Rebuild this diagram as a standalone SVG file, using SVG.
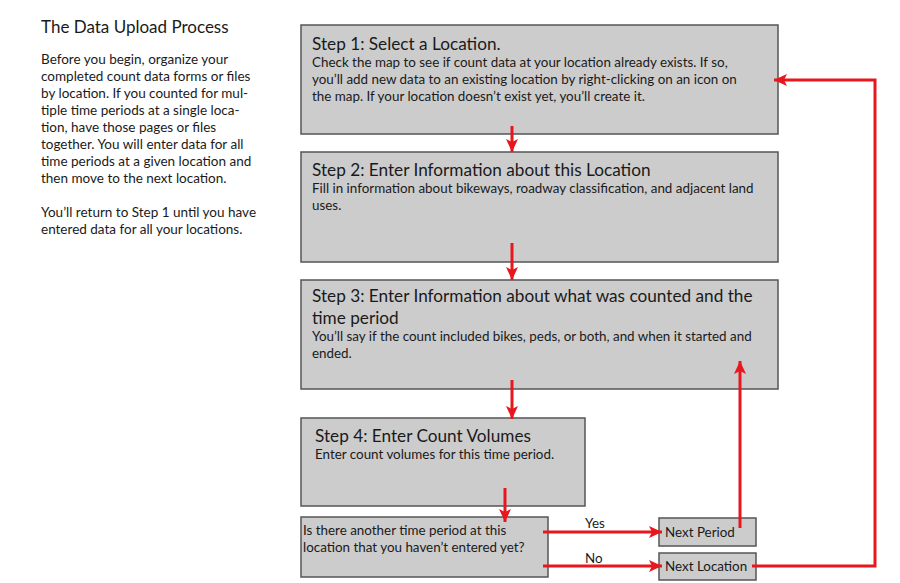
<svg xmlns="http://www.w3.org/2000/svg" width="900" height="583" viewBox="0 0 900 583">
<defs>
<style>
.box{fill:#cccccc;stroke:#555555;stroke-width:1.5}
.t{font-family:Lato,"Open Sans","Liberation Sans",sans-serif;fill:#1a1a1a}
.h{font-size:17.2px}
.b{font-size:13.4px}
.w{font-size:13.5px}
.c{fill:none;stroke:#e8161e;stroke-width:3}
</style>
<marker id="ah" markerUnits="userSpaceOnUse" markerWidth="14" markerHeight="12" refX="13" refY="6" orient="auto">
<path d="M0,0 L13,6 L0,12 L3,6 Z" fill="#e8161e"/>
</marker>
</defs>
<rect width="900" height="583" fill="#ffffff"/>
<g id="intro">
<text class="t" x="41" y="33" font-size="17">The Data Upload Process</text>
<text class="t w">
<tspan x="41" y="64">Before you begin, organize your</tspan>
<tspan x="41" y="81">completed count data forms or files</tspan>
<tspan x="41" y="98">by location. If you counted for mul-</tspan>
<tspan x="41" y="115">tiple time periods at a single loca-</tspan>
<tspan x="41" y="132">tion, have those pages or files</tspan>
<tspan x="41" y="149">together. You will enter data for all</tspan>
<tspan x="41" y="166">time periods at a given location and</tspan>
<tspan x="41" y="183">then move to the next location.</tspan>
<tspan x="41" y="217">You’ll return to Step 1 until you have</tspan>
<tspan x="41" y="234">entered data for all your locations.</tspan>
</text>
</g>
<g id="step1">
<rect class="box" x="301" y="25" width="477" height="109"/>
<text class="t h" x="312" y="50">Step 1: Select a Location.</text>
<text class="t b">
<tspan x="312" y="67">Check the map to see if count data at your location already exists. If so,</tspan>
<tspan x="312" y="84">you’ll add new data to an existing location by right-clicking on an icon on</tspan>
<tspan x="312" y="101">the map. If your location doesn’t exist yet, you’ll create it.</tspan>
</text>
</g>
<g id="step2">
<rect class="box" x="301" y="152" width="477" height="110"/>
<text class="t h" x="312" y="176">Step 2: Enter Information about this Location</text>
<text class="t b">
<tspan x="312" y="193">Fill in information about bikeways, roadway classification, and adjacent land</tspan>
<tspan x="312" y="210">uses.</tspan>
</text>
</g>
<g id="step3">
<rect class="box" x="301" y="280" width="477" height="109"/>
<text class="t h">
<tspan x="312" y="302">Step 3: Enter Information about what was counted and the</tspan>
<tspan x="312" y="324">time period</tspan>
</text>
<text class="t b">
<tspan x="312" y="341">You’ll say if the count included bikes, peds, or both, and when it started and</tspan>
<tspan x="312" y="358">ended.</tspan>
</text>
</g>
<g id="step4">
<rect class="box" x="301" y="418" width="284" height="88"/>
<text class="t h" x="315" y="442">Step 4: Enter Count Volumes</text>
<text class="t b" x="315" y="459">Enter count volumes for this time period.</text>
</g>
<g id="decision">
<rect class="box" x="301" y="517" width="247" height="60"/>
<text class="t b">
<tspan x="303" y="535">Is there another time period at this</tspan>
<tspan x="303" y="552">location that you haven’t entered yet?</tspan>
</text>
</g>
<g id="nextPeriod">
<rect class="box" x="659" y="518" width="97" height="28"/>
<text class="t b" x="665" y="537">Next Period</text>
</g>
<g id="nextLocation">
<rect class="box" x="659" y="553" width="97" height="27"/>
<text class="t b" x="665" y="571">Next Location</text>
</g>
<g id="connectors">
<path class="c" d="M512,126 L512,152" marker-end="url(#ah)"/>
<path class="c" d="M512,243 L512,280" marker-end="url(#ah)"/>
<path class="c" d="M512,380 L512,419" marker-end="url(#ah)"/>
<path class="c" d="M505,488 L505,522" marker-end="url(#ah)"/>
<path class="c" d="M543,532 L662,532" marker-end="url(#ah)"/>
<path class="c" d="M543,566 L662,566" marker-end="url(#ah)"/>
<path class="c" d="M740,528 L740,361" marker-end="url(#ah)"/>
<path class="c" d="M752,566 L875,566 L875,80 L774,80" marker-end="url(#ah)"/>
<text class="t b" x="585" y="528">Yes</text>
<text class="t b" x="585" y="563">No</text>
</g>
</svg>
